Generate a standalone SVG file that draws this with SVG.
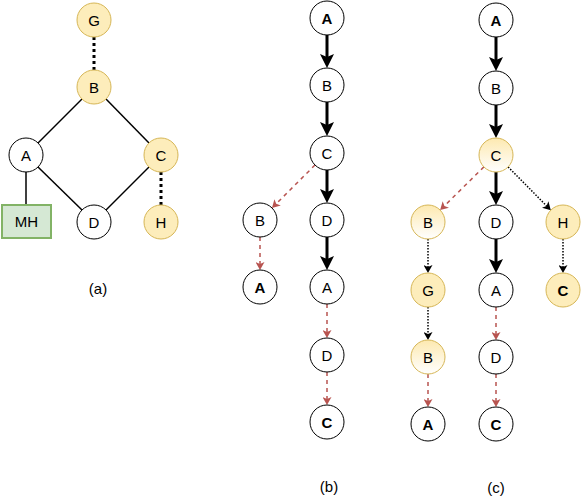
<svg xmlns="http://www.w3.org/2000/svg" width="581" height="502" viewBox="0 0 581 502">
<style>
.n{fill:#ffffff;stroke:#000000;stroke-width:1}
.y{fill:#fdedbb;stroke:#d6b656;stroke-width:1}
.yg{fill:url(#yg);stroke:#d6b656;stroke-width:1}
.g{fill:#d5e8d4;stroke:#82b366;stroke-width:2}
text{font-family:"Liberation Sans",Arial,sans-serif;font-size:15px;text-anchor:middle;fill:#000}
.b{font-weight:bold}
.e{fill:none;stroke:#000;stroke-width:1.5}
.ed{fill:none;stroke:#000;stroke-width:3;stroke-dasharray:3 3}
.t{fill:none;stroke:#000;stroke-width:3;marker-end:url(#big)}
.r{fill:none;stroke:#b85450;stroke-width:1.5;stroke-dasharray:4 4;marker-end:url(#red)}
.d{fill:none;stroke:#000;stroke-width:1.5;stroke-dasharray:1.5 1.5;marker-end:url(#blk)}
</style>
<defs>
<linearGradient id="yg" x1="0" y1="0" x2="0" y2="1">
<stop offset="0" stop-color="#fde9b0"/>
<stop offset="1" stop-color="#ffffff"/>
</linearGradient>
<marker id="big" markerUnits="userSpaceOnUse" markerWidth="15" markerHeight="14" refX="3" refY="7" orient="auto">
<path d="M0,0 L14,7 L0,14 L3,7 Z" fill="#000"/>
</marker>
<marker id="red" markerUnits="userSpaceOnUse" markerWidth="9" markerHeight="9" refX="2" refY="4.5" orient="auto">
<path d="M0,0 L8,4.5 L0,9 L2,4.5 Z" fill="#b85450"/>
</marker>
<marker id="blk" markerUnits="userSpaceOnUse" markerWidth="9" markerHeight="9" refX="2" refY="4.5" orient="auto">
<path d="M0,0 L8,4.5 L0,9 L2,4.5 Z" fill="#000"/>
</marker>
</defs>

<g id="connectors">
<!-- (a) -->
<line class="ed" x1="94" y1="37" x2="94" y2="70"/>
<line class="e" x1="82" y1="99" x2="38" y2="143"/>
<line class="e" x1="106" y1="99" x2="149" y2="143"/>
<line class="e" x1="38" y1="167" x2="82" y2="210"/>
<line class="e" x1="149" y1="167" x2="106" y2="210"/>
<line class="e" x1="26" y1="172" x2="26" y2="205"/>
<line class="ed" x1="161" y1="172" x2="161" y2="205"/>
<!-- (b) -->
<line class="t" x1="327" y1="35" x2="327" y2="57"/>
<line class="t" x1="327" y1="102" x2="327" y2="125"/>
<line class="t" x1="327" y1="170" x2="327" y2="192"/>
<line class="t" x1="327" y1="237" x2="327" y2="259"/>
<line class="r" x1="327" y1="304" x2="327" y2="332"/>
<line class="r" x1="327" y1="372" x2="327" y2="399"/>
<line class="r" x1="315" y1="165" x2="276.2" y2="203.8"/>
<line class="r" x1="260" y1="237" x2="260" y2="264"/>
<!-- (c) -->
<line class="t" x1="496" y1="37" x2="496" y2="60"/>
<line class="t" x1="496" y1="105" x2="496" y2="127"/>
<line class="t" x1="496" y1="172" x2="496" y2="194"/>
<line class="t" x1="496" y1="239" x2="496" y2="262"/>
<line class="r" x1="483.9" y1="166.9" x2="444.4" y2="205.9"/>
<line class="d" x1="508.1" y1="166.9" x2="546.6" y2="205.9"/>
<line class="d" x1="428" y1="239" x2="428" y2="267"/>
<line class="d" x1="428" y1="307" x2="428" y2="334"/>
<line class="r" x1="428" y1="374" x2="428" y2="401"/>
<line class="r" x1="496" y1="307" x2="496" y2="334"/>
<line class="r" x1="496" y1="374" x2="496" y2="401"/>
<line class="d" x1="563" y1="239" x2="563" y2="267"/>
</g>

<!-- panel (a) -->
<g id="a-G"><circle class="y" cx="94" cy="20" r="17"/><text x="94" y="25.5">G</text></g>
<g id="a-B"><circle class="y" cx="94" cy="87" r="17"/><text x="94" y="92.5">B</text></g>
<g id="a-A"><circle class="n" cx="26" cy="155" r="17"/><text x="26" y="160.5">A</text></g>
<g id="a-C"><circle class="y" cx="161" cy="155" r="17"/><text x="161" y="160.5">C</text></g>
<g id="a-MH"><rect class="g" x="2" y="205" width="49" height="33"/><text x="26.5" y="227">MH</text></g>
<g id="a-D"><circle class="n" cx="94" cy="222" r="17"/><text x="94" y="227.5">D</text></g>
<g id="a-H"><circle class="y" cx="161" cy="222" r="17"/><text x="161" y="227.5">H</text></g>
<text x="98" y="294">(a)</text>

<!-- panel (b) -->
<g id="b-A1"><circle class="n" cx="327" cy="18" r="17"/><text class="b" x="327" y="23.5">A</text></g>
<g id="b-B1"><circle class="n" cx="327" cy="85" r="17"/><text x="327" y="90.5">B</text></g>
<g id="b-C1"><circle class="n" cx="327" cy="153" r="17"/><text x="327" y="158.5">C</text></g>
<g id="b-D1"><circle class="n" cx="327" cy="220" r="17"/><text x="327" y="225.5">D</text></g>
<g id="b-A2"><circle class="n" cx="327" cy="287" r="17"/><text x="327" y="292.5">A</text></g>
<g id="b-D2"><circle class="n" cx="327" cy="355" r="17"/><text x="327" y="360.5">D</text></g>
<g id="b-C2"><circle class="n" cx="327" cy="422" r="17"/><text class="b" x="327" y="427.5">C</text></g>
<g id="b-B2"><circle class="n" cx="260" cy="220" r="17"/><text x="260" y="225.5">B</text></g>
<g id="b-A3"><circle class="n" cx="260" cy="287" r="17"/><text class="b" x="260" y="292.5">A</text></g>
<text x="329" y="492">(b)</text>

<!-- panel (c) -->
<g id="c-A1"><circle class="n" cx="496" cy="20" r="17"/><text class="b" x="496" y="25.5">A</text></g>
<g id="c-B1"><circle class="n" cx="496" cy="88" r="17"/><text x="496" y="93.5">B</text></g>
<g id="c-C1"><circle class="yg" cx="496" cy="155" r="17"/><text x="496" y="160.5">C</text></g>
<g id="c-B2"><circle class="yg" cx="428" cy="222" r="17"/><text x="428" y="227.5">B</text></g>
<g id="c-D1"><circle class="n" cx="496" cy="222" r="17"/><text x="496" y="227.5">D</text></g>
<g id="c-H"><circle class="y" cx="563" cy="222" r="17"/><text x="563" y="227.5">H</text></g>
<g id="c-G"><circle class="y" cx="428" cy="290" r="17"/><text x="428" y="295.5">G</text></g>
<g id="c-A2"><circle class="n" cx="496" cy="290" r="17"/><text x="496" y="295.5">A</text></g>
<g id="c-C2"><circle class="y" cx="563" cy="290" r="17"/><text class="b" x="563" y="295.5">C</text></g>
<g id="c-B3"><circle class="yg" cx="428" cy="357" r="17"/><text x="428" y="362.5">B</text></g>
<g id="c-D2"><circle class="n" cx="496" cy="357" r="17"/><text x="496" y="362.5">D</text></g>
<g id="c-A3"><circle class="n" cx="428" cy="424" r="17"/><text class="b" x="428" y="429.5">A</text></g>
<g id="c-C3"><circle class="n" cx="496" cy="424" r="17"/><text class="b" x="496" y="429.5">C</text></g>
<text x="496" y="493">(c)</text>
</svg>
